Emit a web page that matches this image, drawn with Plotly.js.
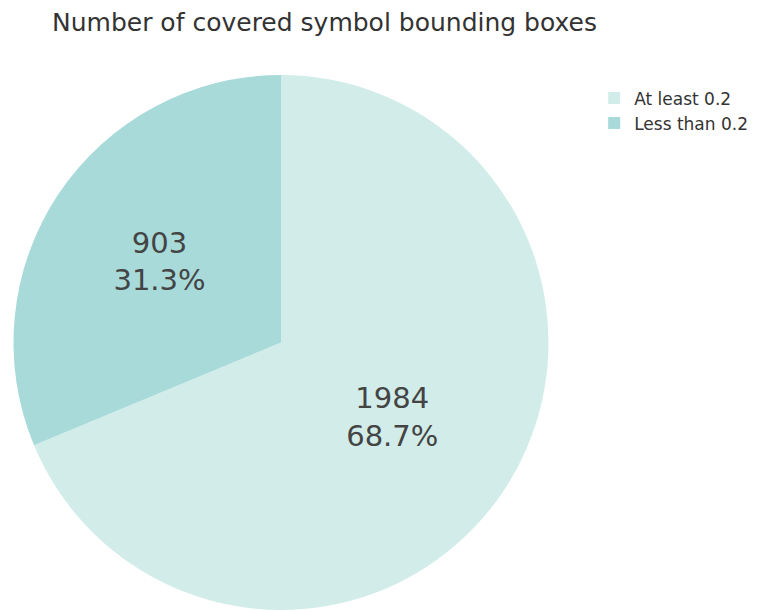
<!DOCTYPE html>
<html>
<head>
<meta charset="utf-8">
<script src="https://cdn.plot.ly/plotly-3.0.1.min.js"></script>
<style>html,body{margin:0;padding:0;background:#fff;}#chart{width:760px;height:610px;}</style>
</head>
<body>
<div id="chart"></div>
<script>
const labels = ["At least 0.2", "Less than 0.2"];
const values = [1984, 903];
const colors = ["rgb(210,237,233)", "rgb(168,218,218)"];
const titleText = "Number of covered symbol bounding boxes";

const data = [{
  type: "pie",
  labels: labels,
  values: values,
  marker: {colors: colors},
  textinfo: "value+percent",
  textposition: "inside",
  insidetextorientation: "horizontal",
  textfont: {family: "DejaVu Sans, Verdana, sans-serif", size: 29, color: "#444"},
  domain: {x: [0, 0.7175], y: [0, 1]},
  hoverinfo: "label+value+percent",
  sort: true
}];

const layout = {
  width: 760, height: 610,
  margin: {l: 13, r: 0, t: 75, b: 0},
  paper_bgcolor: "#fff",
  font: {family: "DejaVu Sans, Verdana, sans-serif", color: "#444"},
  title: {text: titleText, x: 52/760, xanchor: "left", xref: "container", y: 0.963, yanchor: "middle", font: {size: 25, color: "#333"}},
  showlegend: true,
  legend: {x: 0.778, xanchor: "left", y: 0.99, yanchor: "top", font: {size: 17, color: "#333"}, tracegroupgap: 0}
};

Plotly.newPlot("chart", data, layout, {displayModeBar: false});
</script>
</body>
</html>
